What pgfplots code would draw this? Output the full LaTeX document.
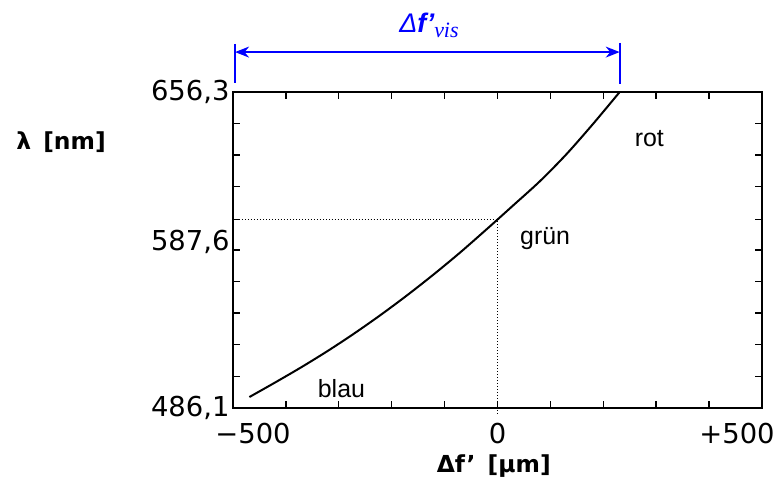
\documentclass[border=0pt]{standalone}
\usepackage{fontspec}
\setmainfont{Liberation Sans}
\newfontfamily\dejavu{DejaVu Sans}
\newfontfamily\serifit{Liberation Serif}
\usepackage{pgfplots}
\pgfplotsset{compat=1.18}
\usetikzlibrary{arrows.meta}
\begin{document}
\begin{tikzpicture}
\begin{axis}[name=ax, at={(0,0)}, anchor=south west,
  scale only axis, width=529bp, height=316bp,
  xmin=-500, xmax=500, ymin=486.1, ymax=656.3,
  axis line style={line width=1.6bp},
  tick align=inside, tick pos=both,
  xtick={-500,0,500},
  xticklabels={{\hspace*{40bp}−500},{0},{+500\hspace*{50bp}}},
  minor xtick={-400,-300,-200,-100,100,200,300,400},
  ytick={486.1,656.3},
  yticklabels={{486{,}1},{656{,}3}},
  extra y ticks={587.6},
  extra y tick labels={{587{,}6}},
  extra y tick style={yticklabel style={yshift=-22bp}},
  minor ytick={503.12,520.14,537.16,554.18,571.20,605.24,622.26,639.28},
  major tick length=7bp, minor tick length=7bp,
  every tick/.style={black, line width=1.4bp},
  ticklabel style={font=\dejavu\fontsize{27.5}{32}\selectfont},
  xticklabel style={yshift=-12bp},
  xlabel={Δf’ \,[µm]}, ylabel={λ \,[nm]},
  label style={font=\dejavu\bfseries\fontsize{23.5}{28}\selectfont},
  xlabel style={at={(axis description cs:0.493,-0.184)}, anchor=center},
  ylabel style={at={(axis description cs:-0.325,0.842)}, rotate=-90, anchor=center},
  clip=false,
]
\addplot[line width=2bp, black, smooth, tension=0.5] coordinates {
  (-469,492.0)(-420,499.9)(-370,508.2)(-320,517.0)(-270,526.4)(-220,536.4)
  (-170,547.0)(-120,558.2)(-70,570.0)(-20,582.5)(0,587.6)(30,595.3)
  (80,608.2)(130,622.7)(180,638.9)(231,656.3)};
\addplot[dotted, line width=1bp, black] coordinates {(-500,587.6)(0,587.6)(0,483.4)};
\draw[blue, line width=1.3bp, {Stealth[length=14bp,width=11bp]}-{Stealth[length=14bp,width=11bp]}]
  (axis cs:-496,677.8) -- (axis cs:231,677.8);
\draw[blue, line width=2bp] (axis cs:-496,682.2) -- (axis cs:-496,661.1);
\draw[blue, line width=2bp] (axis cs:231,682.7) -- (axis cs:231,660.6);
\node[blue, anchor=base west, inner sep=0pt] at (axis cs:-186,688.1)
  {{\fontsize{27}{30}\selectfont\itshape Δ\bfseries f’}\raisebox{-5bp}{\serifit\itshape\fontsize{22}{24}\selectfont vis}};
\node[anchor=base, inner sep=0pt, font=\fontsize{25}{30}\selectfont] at (axis cs:287,626.7) {rot};
\node[anchor=base, inner sep=0pt, font=\fontsize{25}{30}\selectfont] at (axis cs:90,573.9) {grün};
\node[anchor=base, inner sep=0pt, font=\fontsize{25}{30}\selectfont] at (axis cs:-295,492.0) {blau};
\end{axis}
\pgfresetboundingbox
\path[use as bounding box] ([shift={(-233bp,-79bp)}]ax.south west) rectangle ([shift={(14bp,92bp)}]ax.north east);
\end{tikzpicture}
\end{document}
